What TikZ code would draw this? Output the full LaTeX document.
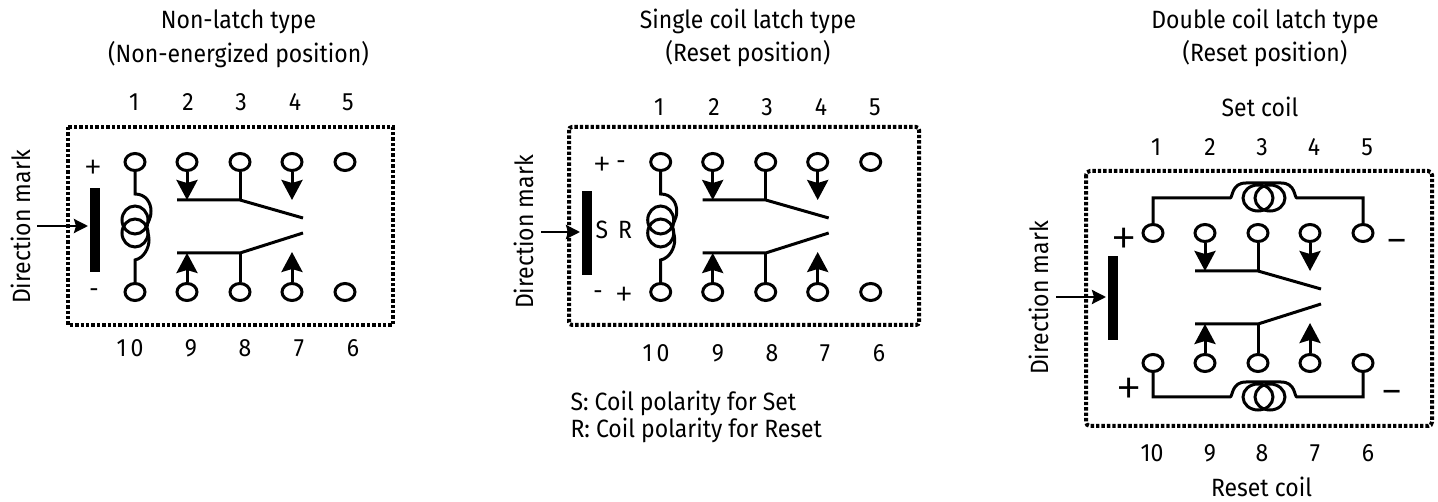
\documentclass[tikz,border=0pt]{standalone}
\usepackage{fontspec}
\setmainfont[FakeStretch=0.92]{Fira Sans}
\newfontfamily\signfont{Lato}
\usetikzlibrary{arrows.meta, shapes.geometric}

\begin{document}
\begin{tikzpicture}[x=1pt,y=-1pt,line width=3pt,
        term/.style={ellipse,draw,minimum width=20pt,minimum height=17pt,inner sep=0pt},
        txt/.style={font=\fontsize{25}{33.5}\selectfont,inner sep=0pt},
        midtxt/.style={font=\signfont\fontsize{28}{28}\selectfont,inner sep=0pt},
        bigtxt/.style={font=\signfont\fontsize{40}{40}\selectfont,inner sep=0pt},
        frame/.style={line width=4pt,dash pattern=on 3.4pt off 2pt},
        bigarrow/.style={-{Stealth[length=20pt,width=21pt,inset=3pt]}},
        smallarrow/.style={-{Stealth[length=14pt,width=14pt,inset=2pt]},line width=2.6pt}]
        \useasboundingbox (0,0) rectangle (1438,502);
        % terminals and contacts, the same in each type
        \foreach \p/\dx/\dy in {a/0/0,b/525.7/0,c/1018/71} {
            \foreach \n/\tx/\bn/\bx in {1/135/10/135,2/187/9/187,3/240/8/240,4/292/7/292,5/345/6/345} {
                \node[term](\p\n) at (\dx+\tx,\dy+162) {};
                \node[term](\p\bn) at (\dx+\bx,\dy+292) {};
            }
            \coordinate (\p up) at (\dx+177,\dy+200);
            \coordinate (\p upm) at (\dx+240,\dy+200);
            \coordinate (\p upe) at (\dx+303,\dy+218);
            \coordinate (\p lo) at (\dx+177,\dy+253);
            \coordinate (\p lom) at (\dx+240,\dy+253);
            \coordinate (\p loe) at (\dx+303,\dy+233);
            \coordinate (\p a2) at (\dx+187,\dy+200);
            \coordinate (\p a4) at (\dx+292,\dy+200);
            \coordinate (\p a9) at (\dx+187,\dy+253);
            \coordinate (\p a7) at (\dx+292,\dy+252);
            \draw (\p up) -- (\p upm) -- (\p upe);
            \draw (\p lo) -- (\p lom) -- (\p loe);
            \draw (\p3) -- (\p upm);
            \draw (\p8) -- (\p lom);
            \draw[bigarrow] (\p2) -- (\p a2);
            \draw[bigarrow] (\p4) -- (\p a4);
            \draw[bigarrow] (\p9) -- (\p a9);
            \draw[bigarrow] (\p7) -- (\p a7);
        }
        % coil of the first two types
        \foreach \p/\dx in {a/0,b/525.7} {
            \coordinate (\p ct) at (\dx+135,194);
            \coordinate (\p cb) at (\dx+135,260);
            \draw (\p1) -- (\p ct) .. controls (\dx+146,194) and (\dx+151,203) .. (\dx+151,211)
                .. controls (\dx+151,220) and (\dx+147,222) .. (\dx+147,227);
            \draw (\p10) -- (\p cb) .. controls (\dx+144,258) and (\dx+149,248) .. (\dx+149,240)
                .. controls (\dx+149,234) and (\dx+147,232) .. (\dx+147,228);
            \draw (\dx+135,220) circle [x radius=13,y radius=14];
            \draw (\dx+135,233) circle [x radius=13,y radius=14];
        }
        % coils of the double coil type
        \foreach \n/\m/\y/\h in {1/5/198/183,10/6/397/382} {
            \coordinate (cl\n) at (1230,\y);
            \coordinate (cr\n) at (1297,\y);
            \draw (c\n) |- (cl\n) .. controls (1233,\y) and (1231,\h) .. (1246,\h)
                -- (1281,\h) .. controls (1296,\h) and (1294,\y) .. (cr\n) -| (c\m);
            \draw (1258,\y) circle [x radius=15,y radius=13];
            \draw (1270,\y) circle [x radius=15,y radius=13];
        }
        % direction marks
        \foreach \p/\bl/\bt/\al/\ay/\mx/\my in {a/88/187/37/226/21/227,b/580/190/541/232/524/232,c/1106/255/1056/297/1039/298} {
            \node[fill,inner sep=0pt,minimum width=10pt,minimum height=84pt,anchor=north west](\p bar) at (\bl,\bt) {};
            \coordinate (\p af) at (\al,\ay);
            \draw[smallarrow] (\p af) -- (\p bar.west |- \p af);
            \node[txt,rotate=90](\p dir) at (\mx,\my) {Direction mark};
        }
        \draw[frame] (68,127) rectangle (393,325);
        \draw[frame,rounded corners=3pt] (569,127) rectangle (919,325);
        \draw[frame,rounded corners=4pt] (1086,171) rectangle (1432,426);
        % titles
        \node[txt,align=center](atitle) at (238.5,39) {Non-latch type\\(Non-energized position)};
        \node[txt,align=center](btitle) at (748,38) {Single coil latch type\\(Reset position)};
        \node[txt,align=center](ctitle) at (1265,38) {Double coil latch type\\(Reset position)};
        % pin numbers
        \foreach \n/\x/\m/\u in {1/134/10/130,2/188/9/191,3/241/8/245,4/295/7/299,5/348/6/353} {
            \node[txt](an\n) at (\x,102) {\n};
            \node[txt](an\m) at (\u,348) {\ifnum\m=10 1\,0\else\m\fi};
        }
        \foreach \n/\x/\m/\u in {1/659/10/656,2/714/9/718,3/767/8/772,4/821/7/825,5/875/6/879} {
            \node[txt](bn\n) at (\x,107) {\n};
            \node[txt](bn\m) at (\u,353) {\ifnum\m=10 1\,0\else\m\fi};
        }
        \foreach \n/\x/\m/\u in {1/1156/10/1152,2/1210/9/1210,3/1262/8/1262,4/1314/7/1315,5/1367/6/1368} {
            \node[txt](cn\n) at (\x,147) {\n};
            \node[txt](cn\m) at (\u,453) {\m};
        }
        % polarity marks
        \node[midtxt](apl) at (93,168) {+};
        \node[txt](ami) at (94,293) {-};
        \node[midtxt](bpl) at (602,165) {+};
        \node[txt](bmi) at (621,165) {-};
        \node[txt](bs) at (602,230) {S};
        \node[txt](br) at (625,230) {R};
        \node[txt](bmib) at (598,295) {-};
        \node[midtxt](bplb) at (624,295) {+};
        \node[bigtxt](cpl) at (1124,240) {+};
        \node[bigtxt](cmi) at (1397,246) {–};
        \node[bigtxt](cplb) at (1129,390) {+};
        \node[bigtxt](cmib) at (1392,397) {–};
        % coil names and notes
        \node[txt](cset) at (1260,107) {Set coil};
        \node[txt](creset) at (1261.5,487) {Reset coil};
        \node[txt,anchor=west](nots) at (569,403) {S: Coil polarity for Set};
        \node[txt,anchor=west](notr) at (569,430) {R: Coil polarity for Reset};
    \end{tikzpicture}
\end{document}
